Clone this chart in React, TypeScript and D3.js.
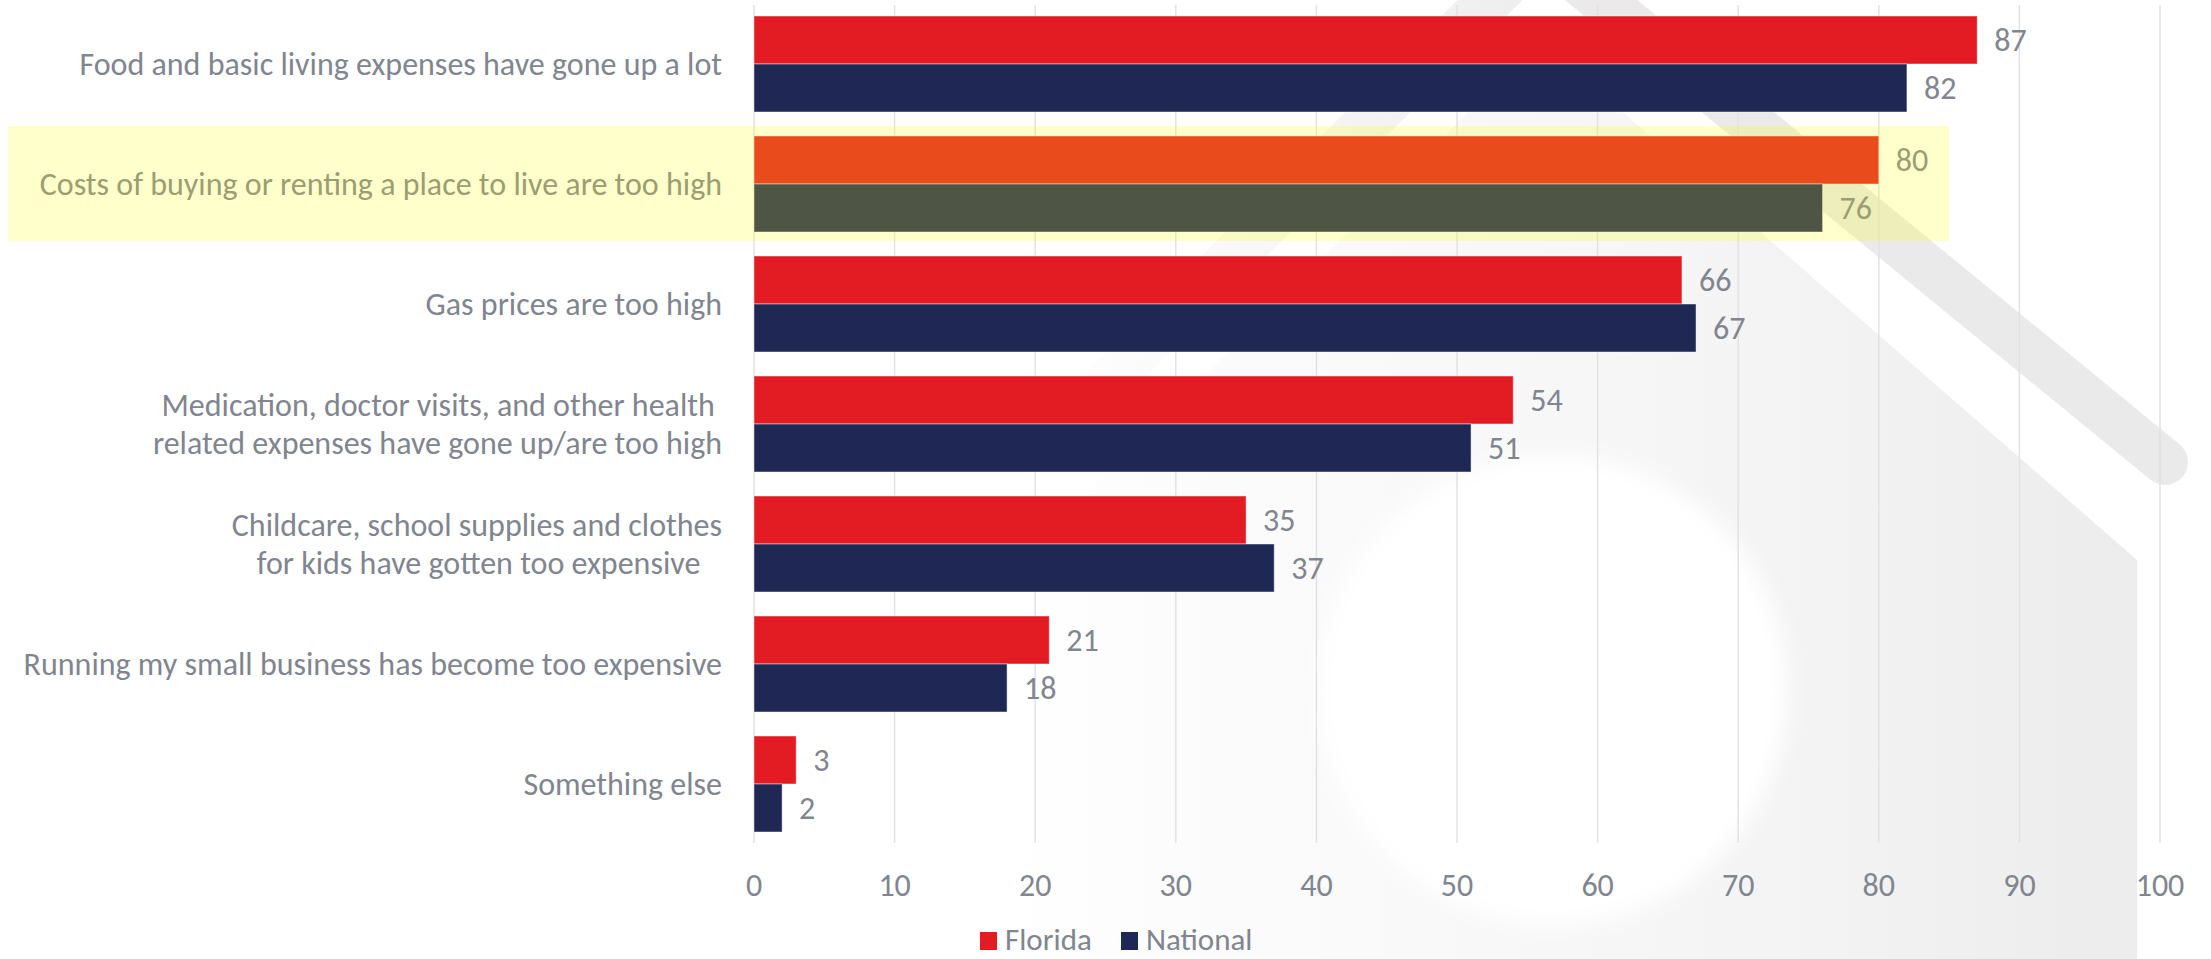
import React from "react";
import { scaleBand, scaleLinear } from "d3";

const categories = [
  "Food and basic living expenses have gone up a lot",
  "Costs of buying or renting a place to live are too high",
  "Gas prices are too high",
  "Medication, doctor visits, and other health related expenses have gone up/are too high",
  "Childcare, school supplies and clothes for kids have gotten too expensive",
  "Running my small business has become too expensive",
  "Something else",
];

// how the axis labels wrap in the original
const categoryLines = [
  ["Food and basic living expenses have gone up a lot"],
  ["Costs of buying or renting a place to live are too high"],
  ["Gas prices are too high"],
  ["Medication, doctor visits, and other health ", "related expenses have gone up/are too high"],
  ["Childcare, school supplies and clothes", "for kids have gotten too expensive   "],
  ["Running my small business has become too expensive"],
  ["Something else"],
];

const seriesNames = ["Florida", "National"];
const florida = [87, 80, 66, 54, 35, 21, 3];
const national = [82, 76, 67, 51, 37, 18, 2];
const xTicks = [0, 10, 20, 30, 40, 50, 60, 70, 80, 90, 100];
const highlighted = "Costs of buying or renting a place to live are too high";

const W = 2211;
const H = 959;
const FONT = "Carlito, 'Liberation Sans Narrow', 'Arial Narrow', sans-serif";
const TEXT = "#80858f";
const COLORS: Record<string, string> = { Florida: "#e31b23", National: "#1f2855" };

export default function App() {
  const x = scaleLinear().domain([0, 100]).range([754, 2160]);
  const y = scaleBand<string>().domain(categories).range([4, 844]).paddingInner(0.2).paddingOuter(0.1);
  const sub = scaleBand<string>().domain(seriesNames).range([0, y.bandwidth()]);

  const values: Record<string, number[]> = { Florida: florida, National: national };
  const hy = y(highlighted)!;

  return (
    <div style={{ position: "absolute", left: 0, top: 0 }}>
      <svg width={W} height={H} style={{ display: "block", background: "#fff" }}>
        <defs>
          <linearGradient id="bodyFade" gradientUnits="userSpaceOnUse" x1={1000} y1={0} x2={2137} y2={0}>
            <stop offset="0" stopColor="#ececec" stopOpacity={0} />
            <stop offset="0.55" stopColor="#efefef" stopOpacity={0.55} />
            <stop offset="1" stopColor="#ebebeb" stopOpacity={0.95} />
          </linearGradient>
          <linearGradient id="roofLeftFade" gradientUnits="userSpaceOnUse" x1={1540} y1={0} x2={1050} y2={0}>
            <stop offset="0" stopColor="#e6e6e6" stopOpacity={0.7} />
            <stop offset="1" stopColor="#e6e6e6" stopOpacity={0} />
          </linearGradient>
          <filter id="soft" x="-20%" y="-20%" width="140%" height="140%">
            <feGaussianBlur stdDeviation={10} />
          </filter>
        </defs>

        {/* faint house watermark */}
        <g>
          <polygon points="1540,40 2137,560 2137,959 1000,959 1000,580" fill="url(#bodyFade)" />
          <circle cx={1553} cy={690} r={235} fill="#fff" filter="url(#soft)" />
          <line x1={1540} y1={-50} x2={2165} y2={462} stroke="#e6e6e6" strokeWidth={46} strokeLinecap="round" opacity={0.8} />
          <line x1={1540} y1={-50} x2={1050} y2={440} stroke="url(#roofLeftFade)" strokeWidth={46} />
        </g>

        {/* gridlines */}
        {xTicks.map((t) => (
          <line key={t} x1={x(t)} x2={x(t)} y1={5} y2={843} stroke="#e2e2e2" strokeWidth={1.5} />
        ))}

        {/* bars + value labels */}
        {categories.map((c, i) => (
          <g key={c} transform={`translate(0,${y(c)})`}>
            {seriesNames.map((s) => {
              const v = values[s][i];
              const by = sub(s)!;
              return (
                <g key={s}>
                  <rect
                    x={x(0)}
                    y={by}
                    width={x(v) - x(0)}
                    height={sub.bandwidth()}
                    fill={COLORS[s]}
                    stroke="#ffffff"
                    strokeOpacity={0.45}
                    strokeWidth={1}
                  />
                  <text
                    x={x(v) + 17}
                    y={by + sub.bandwidth() / 2}
                    dy="0.35em"
                    fontFamily={FONT}
                    fontSize={32}
                    fill={TEXT}
                  >
                    {v}
                  </text>
                </g>
              );
            })}
          </g>
        ))}

        {/* category labels */}
        {categories.map((c, i) => {
          const lines = categoryLines[i];
          const cy = y(c)! + y.bandwidth() / 2;
          return (
            <text key={c} x={722} textAnchor="end" fontFamily={FONT} fontSize={32} fill={TEXT} style={{ whiteSpace: "pre" }}>
              {lines.map((ln, k) => (
                <tspan key={k} x={722} y={cy + (k - (lines.length - 1) / 2) * 38} dy="0.35em">
                  {ln}
                </tspan>
              ))}
            </text>
          );
        })}

        {/* x tick labels */}
        {xTicks.map((t) => (
          <text key={t} x={x(t)} y={885} dy="0.35em" textAnchor="middle" fontFamily={FONT} fontSize={32} fill={TEXT}>
            {t}
          </text>
        ))}

        {/* legend */}
        {seriesNames.map((s, i) => {
          const lx = [980, 1121][i];
          return (
            <g key={s}>
              <rect x={lx} y={932} width={17} height={18} fill={COLORS[s]} />
              <text x={lx + 25} y={950} fontFamily={FONT} fontSize={31} fill={TEXT}>
                {s}
              </text>
            </g>
          );
        })}

        {/* translucent yellow highlight over the housing row */}
        <rect x={8} y={hy - 10} width={x(85) - 8} height={y.bandwidth() + 19} fill="rgb(255,255,10)" opacity={0.21} />
      </svg>
    </div>
  );
}
